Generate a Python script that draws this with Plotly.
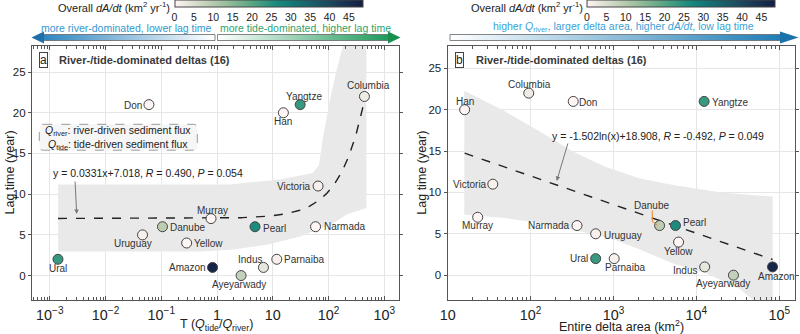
import numpy as np
import plotly.graph_objects as go

# ---------------- data ----------------
names = ["Ural", "Uruguay", "Danube", "Yellow", "Murray", "Amazon", "Ayeyarwady", "Indus",
         "Parnaiba", "Pearl", "Narmada", "Victoria", "Han", "Yangtze", "Columbia", "Don"]
lag_time = [2, 5, 6, 4, 7, 1, 0, 1, 2, 6, 6, 11, 20, 21, 22, 21]
tide_river_ratio = [0.0014, 0.046, 0.105, 0.285, 0.78, 0.83, 2.7, 6.8, 11.8, 4.8, 58.5, 65,
                    15.5, 31, 441, 0.06]
delta_area = [610, 610, 3600, 6100, 23, 83000, 28000, 12600, 1020, 5600, 363, 35, 16,
              12400, 95, 327]
dadt = [23, 1, 9, 0, 0, 47, 8, 3, 1, 26, 0, 1, 0, 23, 2, 0]

# regression coefficients printed on chart
fit_a_slope, fit_a_icpt = 0.0331, 7.018
fit_b_slope, fit_b_icpt = -1.502, 18.908

# confidence bands (log10 x, y)
band_a_up_lx = [-2.85, 0.23, 1.13, 1.72, 1.83, 1.90, 2.02, 2.14, 2.26, 2.68]
band_a_up_y = [11.2, 11.2, 11.8, 12.6, 13.6, 16.9, 21.4, 25.1, 28.2, 28.2]
band_a_lo_lx = [-2.85, -0.30, 0.29, 0.89, 1.49, 2.08, 2.32, 2.68]
band_a_lo_y = [2.95, 2.95, 3.2, 3.8, 4.8, 6.4, 7.5, 8.3]

band_b_up_lx = [1.2, 1.69, 2.09, 2.5, 2.9, 3.32, 3.72, 4.3, 4.92]
band_b_up_y = [22.3, 19.8, 17.5, 15.0, 13.1, 11.7, 10.9, 10.0, 9.5]
band_b_lo_lx = [1.2, 1.69, 2.11, 2.6, 3.0, 3.32, 3.72, 4.13, 4.53, 4.92]
band_b_lo_y = [7.3, 6.9, 6.3, 5.3, 4.3, 3.1, 1.4, 0.2, -1.7, -5.0]

cbar_ticks = [0, 5, 10, 15, 20, 25, 30, 35, 40, 45]

# ---------------- layout helpers ----------------
W, H = 800, 334
FONT = "Arial, Liberation Sans, sans-serif"
TXT = "#333333"

def pxx(p):
    return p / W

def pxy(p):
    return 1 - p / H

A_X0, A_X1 = 32, 399.3
B_X0, B_X1 = 447.7, 795
Y_T, Y_B = 46, 300

fig = go.Figure()

# bands
def band(up_lx, up_y, lo_lx, lo_y, xa, ya):
    xs = [10 ** v for v in up_lx] + [10 ** v for v in lo_lx[::-1]]
    ys = list(up_y) + list(lo_y[::-1])
    fig.add_trace(go.Scatter(x=xs, y=ys, fill="toself", fillcolor="#e9e9e9",
                             line=dict(width=0), mode="lines", hoverinfo="skip",
                             xaxis=xa, yaxis=ya, showlegend=False))

band(band_a_up_lx, band_a_up_y, band_a_lo_lx, band_a_lo_y, "x", "y")
band(band_b_up_lx, band_b_up_y, band_b_lo_lx, band_b_lo_y, "x2", "y2")

# fit lines
xa_fit = np.logspace(np.log10(min(tide_river_ratio)), np.log10(max(tide_river_ratio)), 300)
fig.add_trace(go.Scatter(x=xa_fit, y=fit_a_slope * xa_fit + fit_a_icpt, mode="lines",
                         line=dict(color="#222", width=1.4, dash="dash"),
                         xaxis="x", yaxis="y", showlegend=False))
xb_fit = np.logspace(np.log10(min(delta_area)), np.log10(max(delta_area)), 300)
fig.add_trace(go.Scatter(x=xb_fit, y=fit_b_slope * np.log(xb_fit) + fit_b_icpt, mode="lines",
                         line=dict(color="#222", width=1.4, dash="dash"),
                         xaxis="x2", yaxis="y2", showlegend=False))

# points
fig.add_trace(go.Scatter(x=tide_river_ratio, y=lag_time, mode="markers",
                         marker=dict(size=10, color=dadt, coloraxis="coloraxis",
                                     line=dict(color="#444", width=1)),
                         xaxis="x", yaxis="y", showlegend=False))
fig.add_trace(go.Scatter(x=delta_area, y=lag_time, mode="markers",
                         marker=dict(size=10, color=dadt, coloraxis="coloraxis2",
                                     line=dict(color="#444", width=1)),
                         xaxis="x2", yaxis="y2", showlegend=False))

# decorative arrows at top (pixel overlay axes x3/y3)
def grad_arrow(x0, x1, c_left, c_right, head_pts, head_color):
    fig.add_trace(go.Scatter(x=[x0, x1, x1, x0, x0], y=[34.5, 34.5, 40.5, 40.5, 34.5],
                             mode="lines", fill="toself",
                             fillgradient=dict(type="horizontal",
                                               colorscale=[[0, c_left], [1, c_right]]),
                             line=dict(color="#666", width=0.8), hoverinfo="skip",
                             xaxis="x3", yaxis="y3", showlegend=False))
    hx, hy = zip(*head_pts)
    fig.add_trace(go.Scatter(x=list(hx) + [hx[0]], y=list(hy) + [hy[0]], mode="lines",
                             fill="toself", fillcolor=head_color, line=dict(width=0),
                             hoverinfo="skip", xaxis="x3", yaxis="y3", showlegend=False))

grad_arrow(43.5, 215, "#2f86c0", "#ffffff", [(31.5, 37.5), (44, 31.5), (44, 43.5)], "#1f6fa8")
grad_arrow(217.5, 388.5, "#ffffff", "#1f9a5c", [(388, 31.5), (400.5, 37.5), (388, 43.5)], "#17904f")
grad_arrow(450, 781, "#ffffff", "#1f7db6", [(780, 31.5), (798.5, 37.5), (780, 43.5)], "#1b72ab")

annotations = []

def ann_px(x, y, text, size=10.5, color=TXT, xanchor="center", yanchor="middle", **kw):
    d = dict(x=x, y=y, xref="x3", yref="y3", text=text, showarrow=False,
             font=dict(family=FONT, size=size, color=color), xanchor=xanchor, yanchor=yanchor)
    d.update(kw)
    annotations.append(d)

ann_px(126.7, 27.5, "more river-dominated, lower lag time", size=10.5, color="#3198cf")
ann_px(305.5, 27.5, "more tide-dominated, higher lag time", size=10.5, color="#2ea36e")
ann_px(623, 27, "higher <i>Q</i><sub>river</sub>, larger delta area, higher <i>dA/dt</i>, low lag time",
       size=10.5, color="#3aa2d4")

# colorbar titles
cb_title = "Overall <i>dA/dt</i> (km<sup>2</sup> yr<sup>-1</sup>)"
ann_px(172, 6.5, cb_title, size=11, color="#222", xanchor="right")
ann_px(584.5, 6.5, cb_title, size=11, color="#222", xanchor="right")

# panel labels
ann_px(43.3, 59.5, "a", size=12, color="#222", bordercolor="#444", borderwidth=1, borderpad=0)
ann_px(56.7, 59.5, "<b>River-/tide-dominated deltas (16)</b>", size=11, color="#3a3a3a", xanchor="left")
ann_px(459.7, 60, "b", size=12, color="#222", bordercolor="#444", borderwidth=1, borderpad=0)
ann_px(474.3, 60, "<b>River-/tide-dominated deltas (16)</b>", size=11, color="#3a3a3a", xanchor="left")

# equations
ann_px(50.7, 172.7, "y = 0.0331x+7.018, <i>R</i> = 0.490, <i>P</i> = 0.054", size=10.5, color="#222", xanchor="left")
ann_px(550, 136, "y = -1.502ln(x)+18.908, <i>R</i> = -0.492, <i>P</i> = 0.049", size=10.5, color="#222", xanchor="left")
for hx, hy, tx, ty in [(76.7, 214, 75, 180), (556.7, 181, 568.3, 142)]:
    annotations.append(dict(x=hx, y=hy, xref="x3", yref="y3", ax=tx - hx, ay=ty - hy,
                            text="", showarrow=True, arrowhead=2, arrowsize=0.9,
                            arrowwidth=1, arrowcolor="#777"))

# Q legend box
ann_px(118.3, 137.8, "<i>Q</i><sub>river</sub>: river-driven sediment flux<br>"
       "<i>Q</i><sub>tide</sub>: tide-driven sediment flux", size=10.5, color="#222")

# axis titles
ann_px(9.5, 173, "Lag time (year)", size=12.5, color="#222", textangle=-90)
ann_px(421.7, 173, "Lag time (year)", size=12.5, color="#222", textangle=-90)
ann_px(216, 324.5, "T (<i>Q</i><sub>tide</sub>/<i>Q</i><sub>river</sub>)", size=12.5, color="#222")
ann_px(621.3, 326, "Entire delta area (km<sup>2</sup>)", size=12.5, color="#222")

# point labels: (xanchor, dx, dy) in pixels (dy downward)
lab_a = {"Ural": ("center", 0, 9.3), "Uruguay": ("center", -10, 9), "Danube": ("left", 6, 0.6),
         "Yellow": ("left", 5, 0.4), "Murray": ("center", 1, -8.3), "Amazon": ("right", -4.5, 0),
         "Ayeyarwady": ("center", -1.6, 8.6), "Indus": ("right", 0.5, -8),
         "Parnaiba": ("left", 5.5, 0.7), "Pearl": ("left", 5.5, 1.3), "Narmada": ("left", 6, 0),
         "Victoria": ("right", -5, 0.4), "Han": ("center", 0, 8.4), "Yangtze": ("center", 4.3, -8.6),
         "Columbia": ("center", 4, -11), "Don": ("right", -5, 0.4)}
lab_b = {"Han": ("center", 0, -8.6), "Columbia": ("center", 1, -8.7), "Don": ("left", 3.5, 0.7),
         "Victoria": ("right", -3.5, 0), "Murray": ("center", 0.3, 8.6), "Narmada": ("right", -5.3, 0),
         "Uruguay": ("left", 6, 1.7), "Ural": ("right", -5.7, 0), "Parnaiba": ("center", 10.7, 9),
         "Danube": ("center", -8, -20), "Pearl": ("left", 6, -3.3), "Yellow": ("center", 0, 9.3),
         "Indus": ("right", -5.7, 3.3), "Ayeyarwady": ("center", -10.7, 8.3),
         "Amazon": ("center", 3.8, 10), "Yangtze": ("left", 6, 0.7)}

for xs, lab, xr, yr in [(tide_river_ratio, lab_a, "x", "y"), (delta_area, lab_b, "x2", "y2")]:
    for n, xv, yv in zip(names, xs, lag_time):
        anc, dx, dy = lab[n]
        annotations.append(dict(x=np.log10(xv), y=yv, xref=xr, yref=yr, text=n, showarrow=False,
                                xanchor=anc, yanchor="middle", xshift=dx, yshift=-dy,
                                font=dict(family=FONT, size=10, color=TXT)))

# shapes: Q box (rounded, dashed) and Danube leader
def rounded_rect(x0, y0, x1, y1, r):
    return (f"M {x0+r},{y0} L {x1-r},{y0} Q {x1},{y0} {x1},{y0+r} L {x1},{y1-r} "
            f"Q {x1},{y1} {x1-r},{y1} L {x0+r},{y1} Q {x0},{y1} {x0},{y1-r} "
            f"L {x0},{y0+r} Q {x0},{y0} {x0+r},{y0} Z")

shapes = [
    dict(type="path", xref="x3", yref="y3", path=rounded_rect(39.3, 124.3, 197.3, 150.2, 4),
         line=dict(color="#9a9a9a", width=1, dash="dash"), fillcolor="rgba(242,242,242,0.7)",
         layer="below"),
    dict(type="path", xref="x3", yref="y3", path="M 652.3,210.5 L 652.3,221.5 L 657.5,225",
         line=dict(color="#e8842a", width=1)),
]

axis_common = dict(showline=True, linecolor="#555", linewidth=1.3, mirror="ticks",
                   showgrid=True, gridcolor="#e6e6e6", gridwidth=1, zeroline=False,
                   tickfont=dict(family=FONT, size=11.5, color="#222"), tickcolor="#555")

xlog = dict(type="log", dtick=1, exponentformat="power", ticks="inside", ticklen=4,
            minor=dict(ticks="inside", ticklen=2.5, tickcolor="#555", showgrid=False),
            ticklabelstandoff=2)
ylin = dict(dtick=5, ticks="outside", ticklen=3, tickvals=[0, 5, 10, 15, 20, 25])

cb_common = dict(orientation="h", thickness=7, lenmode="pixels", len=188, xanchor="left",
                 yanchor="top", y=pxy(0.5), xpad=0, ypad=0, outlinewidth=1,
                 outlinecolor="#444", tickvals=cbar_ticks, ticks="",
                 tickfont=dict(family=FONT, size=10.5, color="#222"))

fig.update_layout(
    template="none",
    width=W, height=H, autosize=False,
    margin=dict(l=0, r=0, t=0, b=0),
    paper_bgcolor="white", plot_bgcolor="rgba(0,0,0,0)",
    showlegend=False,
    font=dict(family=FONT, color="#222"),
    xaxis=dict(domain=[pxx(A_X0), pxx(A_X1)], range=[-3.32, 3.27], anchor="y", **xlog, **axis_common),
    yaxis=dict(domain=[pxy(Y_B), pxy(Y_T)], range=[-3, 28.2], anchor="x", **ylin, **axis_common),
    xaxis2=dict(domain=[pxx(B_X0), pxx(B_X1)], range=[1, 5.19], anchor="y2", **xlog, **axis_common),
    yaxis2=dict(domain=[pxy(Y_B), pxy(Y_T)], range=[-3, 27.7], anchor="x2", **ylin, **axis_common),
    xaxis3=dict(domain=[0, 1], range=[0, W], visible=False, anchor="y3", fixedrange=True),
    yaxis3=dict(domain=[0, 1], range=[H, 0], visible=False, anchor="x3", fixedrange=True),
    coloraxis=dict(colorscale="tempo", cmin=0, cmax=48.5,
                   colorbar=dict(x=pxx(174.5), **cb_common)),
    coloraxis2=dict(colorscale="tempo", cmin=0, cmax=48.5,
                    colorbar=dict(x=pxx(587), **cb_common)),
    annotations=annotations,
    shapes=shapes,
)

fig.write_html("out.html")
